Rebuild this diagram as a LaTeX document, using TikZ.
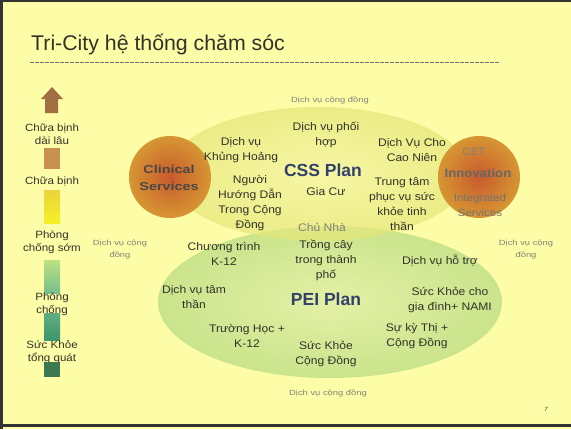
\documentclass[tikz,border=0pt]{standalone}
\usepackage{fontspec}
\setmainfont{Liberation Sans}
\newfontfamily\widefont{Liberation Sans}[FakeStretch=1.1]
\newfontfamily\xwidefont{Liberation Sans}[FakeStretch=1.25]
\usetikzlibrary{shapes.geometric}
\definecolor{bg}{RGB}{253,253,168}
\definecolor{txt}{RGB}{50,50,40}
\definecolor{faint}{RGB}{130,130,120}
\definecolor{planblue}{RGB}{50,65,105}
\definecolor{cssin}{RGB}{246,244,165}
\definecolor{cssout}{RGB}{228,230,120}
\definecolor{peiin}{RGB}{228,240,165}
\definecolor{peiout}{RGB}{202,228,140}
\definecolor{orin}{RGB}{200,90,45}
\definecolor{orout}{RGB}{215,150,50}
\definecolor{legarrow}{RGB}{160,110,65}
\definecolor{legbrown}{RGB}{200,145,80}
\definecolor{legyel1}{RGB}{236,210,60}
\definecolor{legyel2}{RGB}{245,240,40}
\definecolor{leggr1}{RGB}{190,225,130}
\definecolor{leggr2}{RGB}{120,190,140}
\definecolor{legteal}{RGB}{60,150,110}
\definecolor{legdark}{RGB}{60,120,80}
\tikzset{
  lbl/.style={font=\widefont\fontsize{11}{15}\selectfont, text=txt, inner sep=0pt, align=center},
  small/.style={font=\xwidefont\fontsize{7.5}{12}\selectfont, text=faint, inner sep=0pt, align=center},
  plan/.style={font=\fontsize{17.5}{20}\selectfont\bfseries, text=planblue, inner sep=0pt},
  leg/.style={font=\widefont\fontsize{10.5}{13}\selectfont, text=txt, inner sep=0pt, align=center},
  orb/.style={circle, minimum size=82pt, inner sep=0pt, shading=radial, inner color=orin, outer color=orout}
}
\begin{document}
\begin{tikzpicture}[x=1pt,y=-1pt]
\useasboundingbox (0,0) rectangle (571,429);
\fill[bg] (0,0) rectangle (571,429);
% borders
\draw[line width=2pt, black!80] (0,1) -- (571,1);
\draw[line width=2.5pt, black!80] (1.5,0) -- (1.5,429);
\draw[line width=2.5pt, black!80] (0,425.5) -- (571,425.5);
% title
\node[anchor=base west, font=\fontsize{21.3}{24}\selectfont, text=txt, inner sep=0pt] (title) at (31,50) {Tri-City hệ thống chăm sóc};
\coordinate (ruleL) at (30,62);
\coordinate (ruleR) at (500,62);
\draw[black!55, line width=0.8pt, dash pattern=on 4pt off 1pt] (ruleL) -- (ruleR);
% ellipses
\node[ellipse, minimum width=344pt, minimum height=152pt, inner sep=0pt, shading=radial, inner color=peiin, outer color=peiout] (pei) at (330,302) {};
\node[ellipse, minimum width=300pt, minimum height=134pt, inner sep=0pt, shading=radial, inner color=cssin, outer color=cssout, fill opacity=0.7] (css) at (318,174) {};
% circles
\node[orb] (clin) at (170,177) {};
\node[orb] (cet) at (479,177) {};
\node[font=\xwidefont\fontsize{11.5}{16.5}\selectfont\bfseries, text=black!72, align=center, inner sep=0pt] (clintx) at (169,178) {Clinical\\Services};
\node[font=\widefont\fontsize{10.5}{13}\selectfont, text=black!50, inner sep=0pt] (cet1) at (474,152) {CET};
\node[font=\widefont\fontsize{12}{13}\selectfont\bfseries, text=black!60, inner sep=0pt] (cet2) at (478,173) {Innovation};
\node[font=\widefont\fontsize{10.5}{15}\selectfont, text=black!55, align=center, inner sep=0pt] (cet3) at (480,205.5) {Integrated\\Services};
% texts
\node[small] (dvtop) at (330,100) {Dịch vụ cộng đồng};
\node[lbl] (phoihop) at (326,134.5) {Dịch vụ phối\\hợp};
\node[lbl] (khung) at (241,150.5) {Dịch vụ\\Khủng Hoảng};
\node[lbl] (caonien) at (412,150.5) {Dịch Vụ Cho\\Cao Niên};
\node[plan] (cssplan) at (323,170) {CSS Plan};
\node[lbl] (nguoi) at (250,203.5) {Người\\Hướng Dẫn\\Trong Cộng\\Đồng};
\node[lbl] (giacu) at (326,192) {Gia Cư};
\node[lbl] (trungtam) at (402,204) {Trung tâm\\phục vụ sức\\khỏe tinh\\thần};
\node[lbl, text=faint] (chunha) at (322,227) {Chủ Nhà};
\node[small] (dvleft) at (120,249.5) {Dịch vụ cộng\\đồng};
\node[lbl] (k12) at (224,253.5) {Chương trình\\K-12};
\node[lbl] (trongcay) at (326,260.5) {Trồng cây\\trong thành\\phố};
\node[lbl] (hotro) at (440,261) {Dịch vụ hỗ trợ};
\node[small] (dvright) at (526,249.5) {Dịch vụ cộng\\đồng};
\node[lbl] (tamthan) at (194,297) {Dịch vụ tâm\\thần};
\node[plan] (peiplan) at (326,299) {PEI Plan};
\node[lbl] (nami) at (450,299.5) {Sức Khỏe cho\\gia đình+ NAMI};
\node[lbl] (truong) at (247,336) {Trường Học +\\K-12};
\node[lbl] (kythi) at (417,336) {Sự kỳ Thị +\\Cộng Đồng};
\node[lbl] (suckhoe) at (326,353.5) {Sức Khỏe\\Cộng Đồng};
\node[small] (dvbot) at (328,393) {Dịch vụ cộng đồng};
\node[font=\fontsize{6}{8}\selectfont\itshape, text=txt, inner sep=0pt] (pg) at (546,409) {7};
% legend
\fill[legarrow] (52,87) -- (63,99) -- (58,99) -- (58,113) -- (45,113) -- (45,99) -- (41,99) -- cycle;
\node[leg] (l1) at (52,134.5) {Chữa bịnh\\dài lâu};
\fill[legbrown] (44,148) rectangle (60,169);
\node[leg] (l2) at (52,181) {Chữa bịnh};
\shade[top color=legyel1, bottom color=legyel2] (44,190) rectangle (60,223);
\node[leg] (l3) at (52,242.5) {Phòng\\chống sớm};
\shade[top color=leggr1, bottom color=leggr2] (44,260) rectangle (60,293);
\shade[top color=leggr2!60!legteal, bottom color=legteal] (44,313) rectangle (60,340);
\node[leg] (l4) at (52,304) {Phòng\\chống};
\node[leg] (l5) at (52,352.5) {Sức Khỏe\\tổng quát};
\fill[legdark] (44,362) rectangle (60,377);
\end{tikzpicture}
\end{document}
